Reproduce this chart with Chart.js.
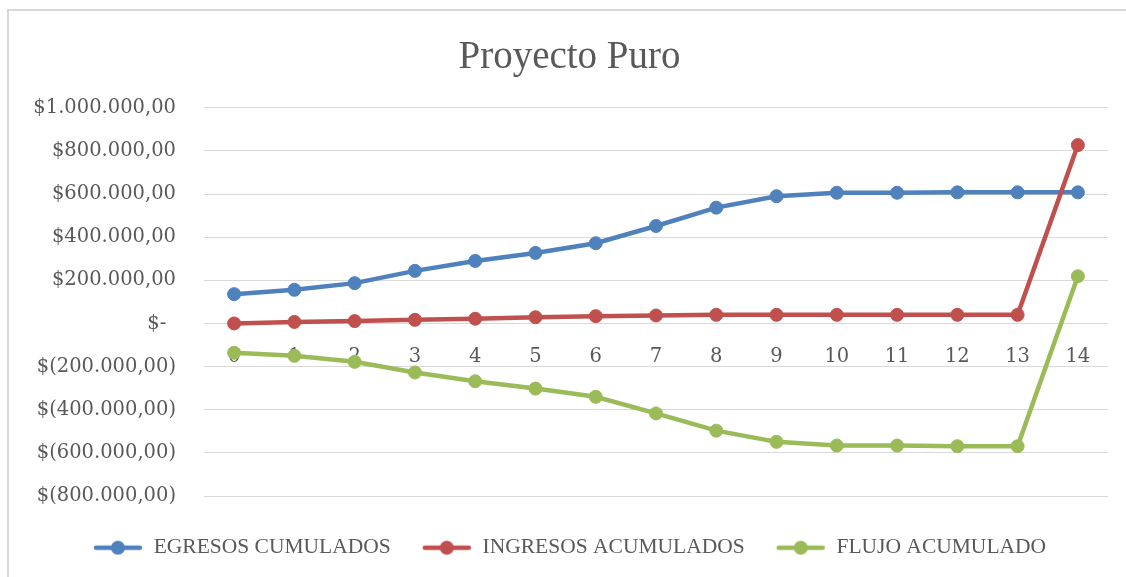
<!DOCTYPE html>
<html>
<head>
<meta charset="utf-8">
<title>Proyecto Puro</title>
<script src="https://cdn.jsdelivr.net/npm/chart.js@4/dist/chart.umd.min.js"></script>
<style>
  html, body { margin: 0; padding: 0; background: #fff; overflow: hidden; }
  #frame {
    position: absolute; left: 7px; top: 9px;
    width: 1140px; height: 600px;
    border-left: 2px solid #d9d9d9; border-top: 2px solid #d9d9d9;
  }
  #chart { position: absolute; left: 0; top: 0; }
</style>
</head>
<body>
<div id="frame"><canvas id="chart" width="1128" height="566"></canvas></div>
<script>
// periods 0..14
const periodos = ["0", "1", "2", "3", "4", "5", "6", "7", "8", "9", "10", "11", "12", "13", "14"];

const egresosCumulados = [136000, 156000, 187000, 244000, 290000, 327000, 372000, 452000, 537000, 590000, 606000, 606000, 608000, 608000, 608000];
const ingresosAcumulados = [0, 7000, 11000, 17000, 22000, 29000, 34000, 37000, 40000, 40000, 40000, 40000, 40000, 40000, 827000];
const flujoAcumulado = [-136000, -150000, -178000, -227000, -268000, -302000, -340000, -417000, -497000, -549000, -566000, -566000, -569000, -569000, 219000];

const yMin = -800000;
const yMax = 1000000;
const yStep = 200000;

const AZUL = "#4f81bd";
const ROJO = "#c0504d";
const VERDE = "#9bbb59";
const TEXTO = "#595959";
const REJILLA = "#d9d9d9";

// accounting style: $1.000.000,00 / $(200.000,00) / $-
function moneda(v) {
  if (v === 0) return "$-\u2002";
  const entero = Math.round(Math.abs(v)).toString().replace(/\B(?=(\d{3})+(?!\d))/g, ".");
  return v < 0 ? "$(" + entero + ",00)" : "$" + entero + ",00";
}

// line + marker symbol for the legend
function simbolo(color) {
  const c = document.createElement("canvas");
  c.width = 50;
  c.height = 16;
  const g = c.getContext("2d");
  g.strokeStyle = color;
  g.lineWidth = 4.5;
  g.lineCap = "round";
  g.beginPath();
  g.moveTo(3, 8);
  g.lineTo(47, 8);
  g.stroke();
  g.fillStyle = color;
  g.beginPath();
  g.arc(25, 8, 7, 0, Math.PI * 2);
  g.fill();
  return c;
}

function serie(label, data, color, order) {
  return {
    label,
    data,
    borderColor: color,
    backgroundColor: color,
    borderWidth: 4.5,
    pointRadius: 6.5,
    pointBorderWidth: 1,
    pointBackgroundColor: color,
    pointBorderColor: color,
    tension: 0,
    order,
  };
}

const ctx = document.getElementById("chart").getContext("2d");

new Chart(ctx, {
  type: "line",
  data: {
    labels: periodos,
    datasets: [
      serie("EGRESOS CUMULADOS", egresosCumulados, AZUL, 3),
      serie("INGRESOS ACUMULADOS", ingresosAcumulados, ROJO, 2),
      serie("FLUJO ACUMULADO", flujoAcumulado, VERDE, 1),
    ],
  },
  options: {
    responsive: false,
    animation: false,
    layout: { padding: { left: 22, right: 29, top: 0, bottom: 8.5 } },
    plugins: {
      tooltip: { enabled: false },
      title: {
        display: true,
        text: "Proyecto Puro",
        color: TEXTO,
        font: { family: "Liberation Serif", size: 39, weight: "normal" },
        padding: { top: 23, bottom: 27 },
      },
      legend: {
        position: "bottom",
        labels: {
          color: TEXTO,
          font: { family: "Liberation Serif", size: 21.5 },
          usePointStyle: true,
          pointStyleWidth: 50,
          padding: 31,
          sort: (a, b) => a.datasetIndex - b.datasetIndex,
          generateLabels(chart) {
            const items = Chart.defaults.plugins.legend.labels.generateLabels(chart);
            return items.map((it) => {
              const ds = chart.data.datasets[it.datasetIndex];
              return { ...it, pointStyle: simbolo(ds.borderColor) };
            });
          },
        },
      },
    },
    scales: {
      x: {
        position: { y: 0 },
        offset: true,
        z: 1, // period numbers sit above the lines
        grid: { display: false, drawTicks: false },
        border: { display: false },
        ticks: {
          color: TEXTO,
          font: { family: "DejaVu Serif", size: 19.5 },
          padding: 22,
          maxRotation: 0,
          autoSkip: false,
        },
      },
      // keeps a little room between the plot and the legend
      hueco: {
        type: "category",
        axis: "x",
        position: "bottom",
        grid: { display: false, drawTicks: false },
        border: { display: false },
        ticks: { display: false },
        afterFit(scale) {
          scale.height = 10;
        },
      },
      y: {
        min: yMin,
        max: yMax,
        grid: { color: REJILLA, lineWidth: 1, drawTicks: false },
        border: { display: false },
        ticks: {
          stepSize: yStep,
          color: TEXTO,
          font: { family: "DejaVu Serif", size: 19.5 },
          padding: 28,
          callback: (v) => moneda(v),
        },
        afterFit(scale) {
          scale.width = 173;
        },
      },
    },
  },
});
</script>
</body>
</html>
